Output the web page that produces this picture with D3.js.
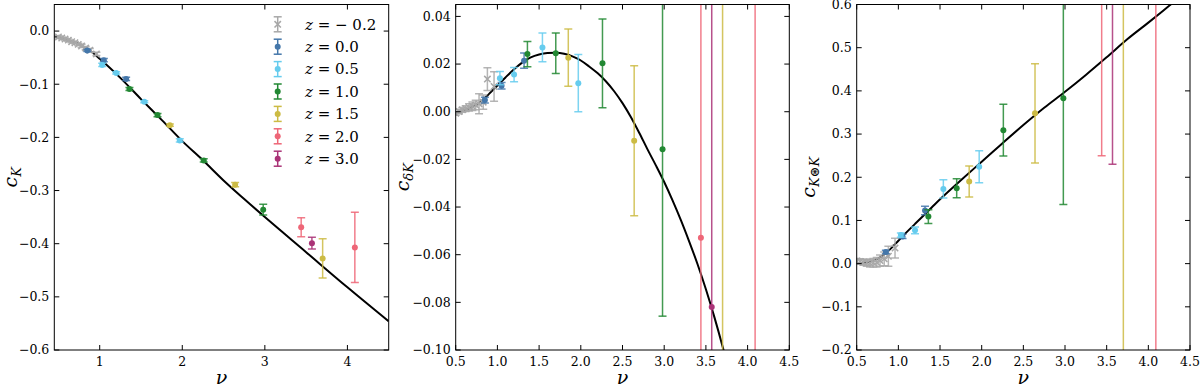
<!DOCTYPE html>
<html><head><meta charset="utf-8">
<script src="https://cdn.jsdelivr.net/npm/d3@7"></script>
<style>
body{margin:0;background:#fff}
text{font-family:"DejaVu Serif",serif;fill:#000}
</style>
</head><body>
<svg id="chart" width="1200" height="385"></svg>
<script>
// ---------------- DATA ----------------
const redshiftLabels = ["− 0.2","0.0","0.5","1.0","1.5","2.0","3.0"];
const seriesColors = ["#a8a8a8","#4477aa","#66ccee","#228833","#ccbb44","#ee6677","#aa3377"];

// nu values per redshift
const nuZm02 = [0.50,0.54,0.58,0.62,0.66,0.70,0.74,0.78,0.83,0.88,0.96];
const nuZ00 = [0.85,1.05,1.32];
const nuZ05 = [1.03,1.20,1.54,1.97];
const nuZ10 = [1.36,1.70,2.26,2.98];
const nuZ15 = [1.85,2.64,3.70];
const nuZ20 = [3.44,4.09];
const nuZ30 = [3.57];

// panel 1 : c_K
const cKZm02 = [-0.011,-0.013,-0.015,-0.017,-0.020,-0.022,-0.025,-0.028,-0.032,-0.036,-0.043];
const cKErrZm02 = [0.002,0.002,0.002,0.002,0.002,0.002,0.002,0.003,0.003,0.003,0.003];
const cKZ00 = [-0.0366,-0.0547,-0.090];
const cKErrZ00 = [0.002,0.003,0.003];
const cKZ05 = [-0.0636,-0.0787,-0.133,-0.2057];
const cKErrZ05 = [0.003,0.002,0.002,0.003];
const cKZ10 = [-0.109,-0.158,-0.2434,-0.336];
const cKErrZ10 = [0.003,0.003,0.003,0.010];
const cKZ15 = [-0.177,-0.289,-0.4277];
const cKErrZ15 = [0.002,0.004,0.037];
const cKZ20 = [-0.369,-0.407];
const cKErrZ20 = [0.018,0.066];
const cKZ30 = [-0.399];
const cKErrZ30 = [0.011];

// panel 2 : c_dK
const cdKZm02 = [-0.0007,0.0001,0.0008,0.0013,0.0018,0.0023,0.0028,0.0033,0.004,0.0137,0.0106];
const cdKErrZm02 = [0.0008,0.0009,0.001,0.0012,0.0015,0.0018,0.002,0.0042,0.003,0.0048,0.0062];
const cdKZ00 = [0.0049,0.0109,0.0214];
const cdKErrZ00 = [0.0012,0.0014,0.0032];
const cdKZ05 = [0.0141,0.0156,0.027,0.012];
const cdKErrZ05 = [0.0028,0.003,0.006,0.012];
const cdKZ10 = [0.0242,0.0245,0.0203,-0.0158];
const cdKErrZ10 = [0.0053,0.0085,0.0186,0.070];
const cdKZ15 = [0.0227,-0.0122,-0.13];
const cdKErrZ15 = [0.012,0.0315,0.25];
const cdKZ20 = [-0.0529,-0.15];
const cdKErrZ20 = [0.2,0.3];
const cdKZ30 = [-0.082];
const cdKErrZ30 = [0.2];

// panel 3 : c_KK
const cKKZm02 = [0.006,0.005,0.003,0.002,0.001,0.002,0.003,0.007,0.011,0.017,0.036];
const cKKErrZm02 = [0.006,0.006,0.007,0.008,0.009,0.010,0.011,0.013,0.016,0.023,0.023];
const cKKZ00 = [0.027,0.063,0.123];
const cKKErrZ00 = [0.004,0.005,0.010];
const cKKZ05 = [0.066,0.077,0.173,0.2245];
const cKKErrZ05 = [0.005,0.008,0.021,0.037];
const cKKZ10 = [0.109,0.1746,0.309,0.383];
const cKKErrZ10 = [0.016,0.022,0.06,0.246];
const cKKZ15 = [0.19,0.348,0.7];
const cKKErrZ15 = [0.036,0.115,1.0];
const cKKZ20 = [0.65,0.8];
const cKKErrZ20 = [0.4,1.2];
const cKKZ30 = [0.62];
const cKKErrZ30 = [0.39];

// model curves
const modelNuK = [0.45,0.6,0.7,0.8,0.9,1.0,1.25,1.5,1.75,2.0,2.25,2.5,2.75,3.0,3.5,4.0,4.5];
const modelK   = [-0.010,-0.016,-0.021,-0.029,-0.039,-0.052,-0.088,-0.128,-0.167,-0.207,-0.243,-0.281,-0.316,-0.350,-0.416,-0.482,-0.546];
const modelNuDK = [0.5,0.6,0.7,0.8,0.9,1.0,1.1,1.2,1.3,1.4,1.5,1.6,1.7,1.8,1.9,2.0,2.1,2.2,2.3,2.4,2.5,2.6,2.7,2.8,2.9,3.0,3.1,3.2,3.3,3.4,3.5,3.6,3.7,3.8];
const modelDK   = [-0.0007,0.0005,0.0020,0.0042,0.0075,0.011,0.0145,0.0178,0.0207,0.0228,0.024,0.0246,0.0247,0.0243,0.0232,0.0215,0.019,0.0162,0.0128,0.0086,0.0036,-0.0022,-0.0088,-0.0158,-0.0225,-0.0295,-0.0372,-0.0455,-0.0545,-0.064,-0.0745,-0.086,-0.0985,-0.112];
const modelNuKK = [0.5,0.6,0.7,0.8,0.9,1.0,1.1,1.2,1.3,1.4,1.5,1.75,2.0,2.25,2.5,2.75,3.0,3.25,3.5,3.75,4.0,4.25,4.5];
const modelKK   = [0.001,0.002,0.007,0.017,0.033,0.053,0.073,0.092,0.111,0.130,0.149,0.193,0.236,0.279,0.321,0.361,0.398,0.437,0.478,0.520,0.558,0.597,0.636];

const xTicks1 = [1,2,3,4];
const xTicks23 = [0.5,1.0,1.5,2.0,2.5,3.0,3.5,4.0,4.5];
const yTicks1 = [0.0,-0.1,-0.2,-0.3,-0.4,-0.5,-0.6];
const yTicks2 = [0.04,0.02,0.00,-0.02,-0.04,-0.06,-0.08,-0.10];
const yTicks3 = [0.6,0.5,0.4,0.3,0.2,0.1,0.0,-0.1,-0.2];

// ---------------- BUILD ----------------
const nuAll = [nuZm02,nuZ00,nuZ05,nuZ10,nuZ15,nuZ20,nuZ30];
const panels = [
  {x0:54.3,x1:388.7,xd:[0.45,4.5],yd:[-0.6,0.05],xt:xTicks1,xf:d3.format("d"),yt:yTicks1,yf:d3.format(".1f"),
   vals:[cKZm02,cKZ00,cKZ05,cKZ10,cKZ15,cKZ20,cKZ30],errs:[cKErrZm02,cKErrZ00,cKErrZ05,cKErrZ10,cKErrZ15,cKErrZ20,cKErrZ30],
   mx:modelNuK,my:modelK,lab:"K",labx:17},
  {x0:455.7,x1:789.3,xd:[0.5,4.5],yd:[-0.1,0.045],xt:xTicks23,xf:d3.format(".1f"),yt:yTicks2,yf:d3.format(".2f"),
   vals:[cdKZm02,cdKZ00,cdKZ05,cdKZ10,cdKZ15,cdKZ20,cdKZ30],errs:[cdKErrZm02,cdKErrZ00,cdKErrZ05,cdKErrZ10,cdKErrZ15,cdKErrZ20,cdKErrZ30],
   mx:modelNuDK,my:modelDK,lab:"δK",labx:409},
  {x0:856.7,x1:1190,xd:[0.5,4.5],yd:[-0.2,0.6],xt:xTicks23,xf:d3.format(".1f"),yt:yTicks3,yf:d3.format(".1f"),
   vals:[cKKZm02,cKKZ00,cKKZ05,cKKZ10,cKKZ15,cKKZ20,cKKZ30],errs:[cKKErrZm02,cKKErrZ00,cKKErrZ05,cKKErrZ10,cKKErrZ15,cKKErrZ20,cKKErrZ30],
   mx:modelNuKK,my:modelKK,lab:"K⊛K",labx:815}
];
const yTop = 4.5, yBot = 350;
const svg = d3.select("#chart");
const defs = svg.append("defs");
const capW = 4, tickLen = 5;

panels.forEach((p,pi)=>{
  const x = d3.scaleLinear().domain(p.xd).range([p.x0,p.x1]);
  const y = d3.scaleLinear().domain(p.yd).range([yBot,yTop]);
  const cid = "clip"+pi;
  defs.append("clipPath").attr("id",cid).append("rect")
    .attr("x",p.x0).attr("y",yTop).attr("width",p.x1-p.x0).attr("height",yBot-yTop);
  const g = svg.append("g");
  const plot = g.append("g").attr("clip-path",`url(#${cid})`);

  // model line
  const line = d3.line().x((d,i)=>x(p.mx[i])).y((d,i)=>y(p.my[i])).curve(d3.curveMonotoneX);
  plot.append("path").datum(p.mx).attr("d",line).attr("fill","none").attr("stroke","#000").attr("stroke-width",2);

  // data
  nuAll.forEach((nus,si)=>{
    const col = seriesColors[si];
    const sg = plot.append("g");
    nus.forEach((nu,k)=>{
      const v = p.vals[si][k], e = p.errs[si][k];
      const cx = x(nu), ylo = y(v-e), yhi = y(v+e);
      sg.append("line").attr("x1",cx).attr("x2",cx).attr("y1",ylo).attr("y2",yhi)
        .attr("stroke",col).attr("stroke-width",1.5).attr("stroke-opacity",0.85);
      [ylo,yhi].forEach(yy=>sg.append("line").attr("x1",cx-capW).attr("x2",cx+capW).attr("y1",yy).attr("y2",yy)
        .attr("stroke",col).attr("stroke-width",1.5).attr("stroke-opacity",0.85));
      const cy = y(v);
      if(si===0){
        const s=3.2;
        sg.append("path").attr("d",`M${cx-s},${cy-s}L${cx+s},${cy+s}M${cx-s},${cy+s}L${cx+s},${cy-s}`)
          .attr("stroke",col).attr("stroke-width",1.5).attr("fill","none");
      } else {
        sg.append("circle").attr("cx",cx).attr("cy",cy).attr("r",3).attr("fill",col);
      }
    });
  });

  // frame
  g.append("rect").attr("x",p.x0).attr("y",yTop).attr("width",p.x1-p.x0).attr("height",yBot-yTop)
    .attr("fill","none").attr("stroke","#000").attr("stroke-width",1);

  // axes with inward ticks on all sides
  const ax = g.append("g");
  p.xt.forEach(t=>{
    const xx = x(t);
    ax.append("line").attr("x1",xx).attr("x2",xx).attr("y1",yBot).attr("y2",yBot-tickLen).attr("stroke","#000");
    ax.append("line").attr("x1",xx).attr("x2",xx).attr("y1",yTop).attr("y2",yTop+tickLen).attr("stroke","#000");
    ax.append("text").attr("x",xx).attr("y",366).attr("text-anchor","middle").attr("font-size",12.5).text(p.xf(t));
  });
  p.yt.forEach(t=>{
    const yy = y(t);
    ax.append("line").attr("x1",p.x0).attr("x2",p.x0+tickLen).attr("y1",yy).attr("y2",yy).attr("stroke","#000");
    ax.append("line").attr("x1",p.x1).attr("x2",p.x1-tickLen).attr("y1",yy).attr("y2",yy).attr("stroke","#000");
    ax.append("text").attr("x",p.x0-5).attr("y",yy).attr("dy","0.35em").attr("text-anchor","end").attr("font-size",12.5).text(p.yf(t));
  });

  // axis labels
  g.append("text").attr("x",(p.x0+p.x1)/2).attr("y",384).attr("text-anchor","middle")
    .attr("font-size",19).attr("font-style","italic").text("ν");
  const yl = g.append("text").attr("transform",`translate(${p.labx},${(yTop+yBot)/2}) rotate(-90)`)
    .attr("text-anchor","middle").attr("font-size",19);
  yl.append("tspan").attr("font-style","italic").text("c");
  yl.append("tspan").attr("font-size",13).attr("font-style","italic").attr("dy",4).text(p.lab);
});

// legend (in panel 1)
const leg = svg.append("g");
redshiftLabels.forEach((lab,i)=>{
  const ly = 24.3 + i*22.4, lx = 277.7, col = seriesColors[i];
  leg.append("line").attr("x1",lx).attr("x2",lx).attr("y1",ly-7.5).attr("y2",ly+7.5).attr("stroke",col).attr("stroke-width",1.5);
  [ly-7.5,ly+7.5].forEach(yy=>leg.append("line").attr("x1",lx-capW).attr("x2",lx+capW).attr("y1",yy).attr("y2",yy).attr("stroke",col).attr("stroke-width",1.5));
  if(i===0){
    const s=3.2;
    leg.append("path").attr("d",`M${lx-s},${ly-s}L${lx+s},${ly+s}M${lx-s},${ly+s}L${lx+s},${ly-s}`).attr("stroke",col).attr("stroke-width",1.5);
  } else {
    leg.append("circle").attr("cx",lx).attr("cy",ly).attr("r",3).attr("fill",col);
  }
  const t = leg.append("text").attr("x",305).attr("y",ly).attr("dy","0.35em").attr("font-size",15);
  t.append("tspan").attr("font-style","italic").text("z");
  t.append("tspan").text(" = "+lab);
});
</script>
</body></html>
